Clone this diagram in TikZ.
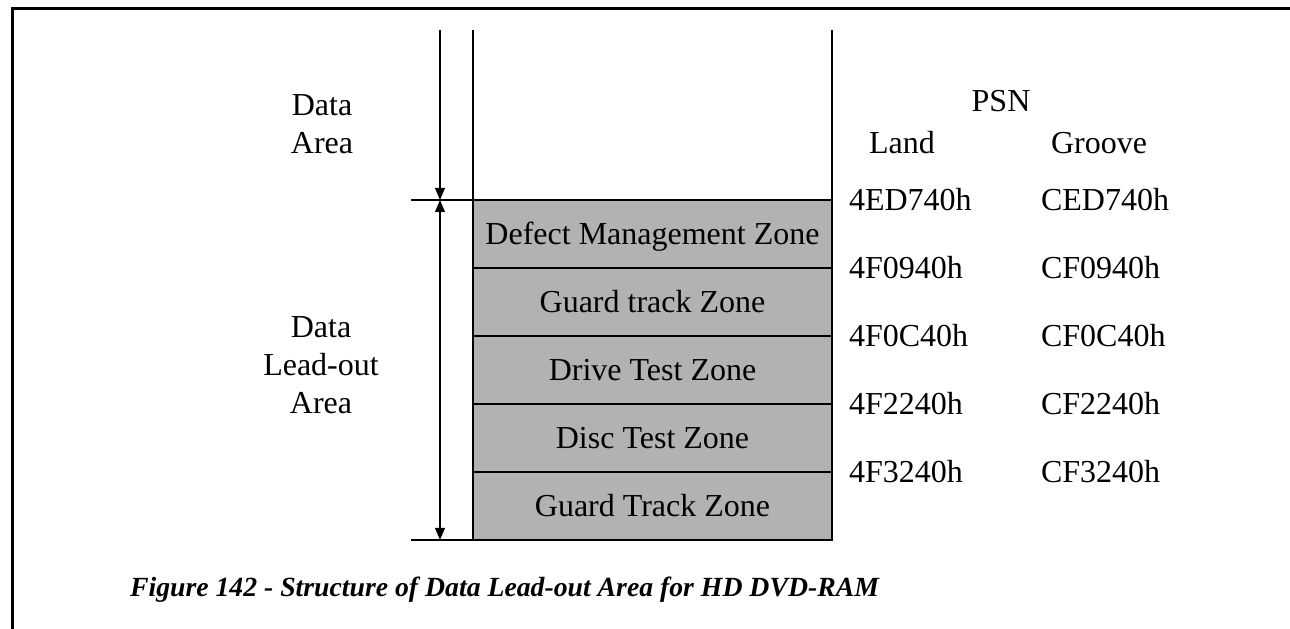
\documentclass[tikz,border=0pt]{standalone}
\usepackage{fontspec}
\setmainfont{Liberation Serif}
\usetikzlibrary{positioning,arrows.meta}

\begin{document}
\begin{tikzpicture}[x=0.375pt, y=-0.375pt, line width=0.75pt,
    font=\fontsize{12}{14.25}\selectfont,
    zone/.style={draw, fill=black!30, minimum width=134.625pt, minimum height=25.5pt,
        inner sep=0pt, outer sep=0pt, text height=8pt, text depth=0pt},
    psn/.style={anchor=west, inner sep=0pt, text height=8pt, text depth=0pt},
    area/.style={align=center, inner sep=0pt},
    tip/.tip={Triangle[length=4.5pt,width=3.6pt]},
    dim/.style={tip-tip}]
    \useasboundingbox (0,0) rectangle (1290,629);
    % frame
    \draw[line width=1.125pt] (12,629) -- (12,8.5) -- (1290,8.5);

    % Zones
    \node[zone, anchor=north west] (dmz) at (473,200) {Defect Management Zone};
    \node[zone, below=0pt of dmz] (gtz) {Guard track Zone};
    \node[zone, below=0pt of gtz] (dtz) {Drive Test Zone};
    \node[zone, below=0pt of dtz] (ctz) {Disc Test Zone};
    \node[zone, below=0pt of ctz] (gtz2) {Guard Track Zone};

    % Data area above
    \coordinate (topL) at (473,30);
    \coordinate (topR) at (832,30);
    \coordinate (arrTop) at (440,30);
    \coordinate (tickA) at (411,200);
    \coordinate (tickB) at (411,540);
    \draw (topL) -- (dmz.north west);
    \draw (topR) -- (dmz.north east);
    \draw (tickA) -- (dmz.north west);
    \draw (tickB) -- (gtz2.south west);
    \draw[-tip] (arrTop) -- (arrTop |- dmz.north);
    \draw[dim] (arrTop |- dmz.north) -- (arrTop |- gtz2.south);

    \node[area] (dataarea) at (322,124) {Data\\Area};
    \node[area] (leadout) at (321,365) {Data\\Lead-out\\Area};

    % PSN columns
    \node[inner sep=0pt, text height=8pt, text depth=0pt] (psn) at (1001,101) {PSN};
    \node[psn] (land) at (868,143) {Land};
    \node[psn] (groove) at (1050,143) {Groove};
    \coordinate (landcol) at (848,0);
    \coordinate (groovecol) at (1040,0);
    \foreach \p/\l/\g [count=\i] in {dmz.north east/4ED740h/CED740h,
        dmz.south east/4F0940h/CF0940h, gtz.south east/4F0C40h/CF0C40h,
        dtz.south east/4F2240h/CF2240h, ctz.south east/4F3240h/CF3240h}
    {
        \node[psn] (l\i) at (\p -| landcol) {\l};
        \node[psn] (g\i) at (\p -| groovecol) {\g};
    }

    \node[anchor=base, inner sep=0pt, font=\fontsize{10.4}{12}\selectfont\bfseries\itshape] (caption) at (504.5,597)
        {Figure 142 - Structure of Data Lead-out Area for HD DVD-RAM};
\end{tikzpicture}
\end{document}
